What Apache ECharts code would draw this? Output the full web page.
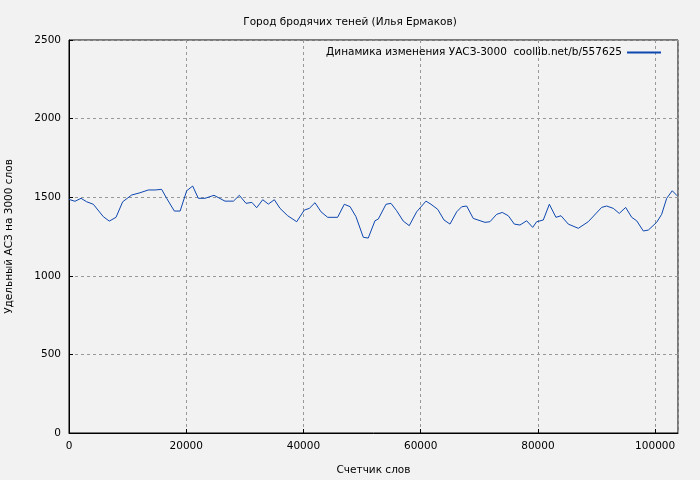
<!DOCTYPE html>
<html><head><meta charset="utf-8">
<script src="https://cdn.jsdelivr.net/npm/echarts@6/dist/echarts.min.js"></script>
<style>html,body{margin:0;background:#f2f2f2}#c{width:700px;height:480px}</style>
</head><body><div id="c"></div>
<script>
const words = [0,1020,2050,3010,4150,5860,6880,8020,9160,10700,12100,13530,14700,15800,16660,17970,18960,20080,21100,22060,23200,24740,26610,28060,29060,30200,31200,32020,33050,34010,35030,36000,37310,38850,40140,41000,41970,43000,44130,45830,46970,47950,48960,50210,51050,52200,52770,54080,54930,55900,57030,58050,59310,60900,61760,62900,63980,65000,66140,66990,67840,68970,70970,71820,72960,73920,74950,75970,76940,78080,79110,79790,80920,81950,83080,83940,85180,86890,88590,90870,91720,92860,93880,94970,96000,96850,97980,98830,100260,101110,101970,102920,103760];
const values = [1486,1474,1493,1471,1455,1376,1348,1372,1471,1514,1528,1546,1546,1550,1493,1412,1412,1541,1571,1493,1493,1512,1475,1475,1512,1461,1467,1433,1484,1456,1484,1429,1382,1344,1418,1429,1465,1407,1372,1372,1455,1440,1376,1245,1240,1350,1361,1455,1461,1414,1348,1319,1407,1475,1455,1423,1355,1329,1407,1439,1444,1365,1340,1344,1391,1403,1382,1329,1323,1350,1308,1344,1355,1455,1372,1382,1329,1302,1344,1435,1444,1429,1397,1435,1372,1350,1285,1291,1340,1391,1493,1541,1509];
const titleText = 'Город бродячих теней (Илья Ермаков)';
const seriesName = 'Динамика изменения УАСЗ-3000  coollib.net/b/557625';
const font = 'DejaVu Sans';
const chart = echarts.init(document.getElementById('c'));
chart.setOption({
  backgroundColor:'#f2f2f2', animation:false,
  textStyle:{fontFamily:font},
  title:{text:titleText,left:'center',top:12,textStyle:{fontSize:10.5,fontWeight:'normal',color:'#000',fontFamily:font}},
  legend:{right:34,top:42,itemWidth:34,itemHeight:2,itemGap:10,align:'right',
    data:[{name:seriesName,icon:'rect'}],
    textStyle:{fontSize:10.5,color:'#000',fontFamily:font}},
  grid:{left:69,right:22,top:40,bottom:47,outerBoundsMode:'none',containLabel:false,show:true,borderColor:'#000',borderWidth:1,backgroundColor:'transparent'},
  xAxis:{type:'value',min:0,max:103900,interval:20000,name:'Счетчик слов',nameLocation:'middle',nameGap:32,
    nameTextStyle:{fontSize:10.5,color:'#000'},
    axisLine:{lineStyle:{color:'#000'}},axisTick:{inside:true,length:4,lineStyle:{color:'#000'}},
    axisLabel:{fontSize:10.5,color:'#000',showMaxLabel:false,formatter:v=>String(v)},
    splitLine:{lineStyle:{type:[3,3],color:'#999'}}},
  yAxis:{type:'value',min:0,max:2500,interval:500,name:'Удельный АСЗ на 3000 слов',nameLocation:'middle',nameGap:54,
    nameTextStyle:{fontSize:10.5,color:'#000'},
    axisLine:{lineStyle:{color:'#000'}},axisTick:{inside:true,length:4,lineStyle:{color:'#000'}},
    axisLabel:{fontSize:10.5,color:'#000',formatter:v=>String(v)},
    splitLine:{lineStyle:{type:[3,3],color:'#999'}}},
  series:[{name:seriesName,type:'line',showSymbol:false,data:words.map((w,i)=>[w,values[i]]),
    lineStyle:{color:'#0d47b0',width:1},itemStyle:{color:'#0d47b0'}}]
});
</script></body></html>
